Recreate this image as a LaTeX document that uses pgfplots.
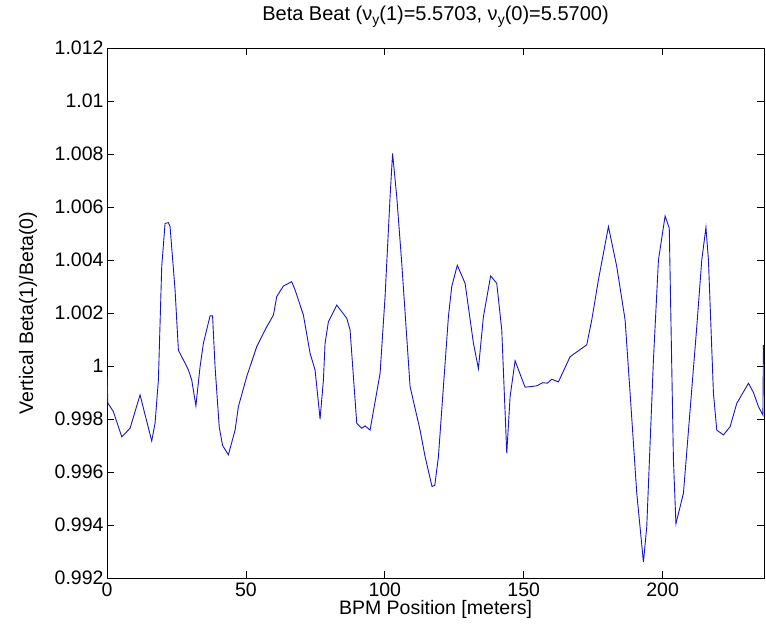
\documentclass[border=0pt]{standalone}
\usepackage{fontspec}
\setmainfont{Liberation Sans}
\usepackage{pgfplots}
\pgfplotsset{compat=1.18}
\begin{document}
\begin{tikzpicture}
\useasboundingbox (0,0) rectangle (766bp,626bp);
\begin{axis}[
  at={(107bp,48bp)}, anchor=south west,
  scale only axis, width=657bp, height=530bp,
  xmin=0, xmax=236.5, ymin=0.992, ymax=1.012,
  axis line style={line width=0.8bp},
  tick style={line width=0.8bp, black},
  tick align=inside, major tick length=7bp,
  xtick={0,50,100,150,200}, xticklabels={0,50,100,150,200},
  ytick={0.992,0.994,0.996,0.998,1,1.002,1.004,1.006,1.008,1.01,1.012},
  yticklabels={0.992,0.994,0.996,0.998,1,1.002,1.004,1.006,1.008,1.01,1.012},
  scaled y ticks=false,
  tick label style={font=\fontsize{19.5bp}{23bp}\selectfont},
  xticklabel style={yshift=-1bp},
  label style={font=\fontsize{19.5bp}{23bp}\selectfont},
  xlabel={BPM Position [meters]},
  xlabel style={at={(axis description cs:0.5,0)}, anchor=base, yshift=-36bp},
  ylabel={Vertical Beta(1)/Beta(0)},
  ylabel style={at={([xshift=-79bp]axis description cs:0,0.5)}, anchor=center},
  title={Beta Beat (ν\raisebox{-0.45ex}{\fontsize{14bp}{16bp}\selectfont y}(1)=5.5703, ν\raisebox{-0.45ex}{\fontsize{14bp}{16bp}\selectfont y}(0)=5.5700)},
  title style={font=\fontsize{20bp}{24bp}\selectfont, at={(axis description cs:0.5,1)}, anchor=base, yshift=22bp},
]
\addplot[color={rgb,255:red,20;green,20;blue,200}, line width=0.9bp] coordinates {
(0,0.99962) (0.3,0.99860) (2.3,0.99828) (5.3,0.99733) (8.3,0.99765)
(11.9,0.99891) (16.1,0.99717) (17.3,0.99784) (18.5,0.99947) (19.7,1.00375)
(20.9,1.00538) (22.1,1.00541) (22.7,1.00526) (24.5,1.00287) (25.7,1.00060)
(29.3,0.99985) (30.5,0.99947) (32.0,0.99850) (33.5,0.99997) (34.7,1.00086)
(37.1,1.00189) (38.0,1.00189) (38.9,0.99997) (40.4,0.99770) (41.6,0.99700)
(43.7,0.99665) (46.1,0.99758) (47.3,0.99847) (50.3,0.99960) (53.9,1.00073)
(57.5,1.00148) (59.9,1.00192) (61.1,1.00262) (63.5,1.00302) (66.5,1.00318)
(67.7,1.00287) (70.7,1.00192) (73.1,1.00048) (74.9,0.99985) (76.7,0.99800)
(77.9,0.99947) (78.5,1.00086) (79.7,1.00167) (82.7,1.00230) (86.3,1.00180)
(87.5,1.00136) (89.9,0.99784) (91.7,0.99765) (92.9,0.99774) (94.7,0.99758)
(98.3,0.99972) (100.1,1.00262) (101.9,1.00639) (102.8,1.00802) (104.3,1.00639)
(106.1,1.00388) (109.1,0.99922) (112.7,0.99758) (114.5,0.99658) (117.0,0.99545)
(118.0,0.99550) (119.3,0.99658) (122.9,1.00186) (124.1,1.00300) (126.1,1.00380)
(128.9,1.00312) (131.9,1.00086) (133.7,0.99990) (135.5,1.00186) (138.1,1.00340)
(140.3,1.00312) (142.1,1.00136) (143.9,0.99670) (145.1,0.99884) (146.9,1.00020)
(148.5,0.99975) (150.5,0.99920) (154.7,0.99925) (156.8,0.99937) (158.5,0.99935)
(160.1,0.99950) (162.5,0.99940) (166.7,1.00035) (172.7,1.00080) (174.5,1.00174)
(176.9,1.00325) (180.5,1.00526) (183.5,1.00375) (186.5,1.00174) (188.3,0.99897)
(190.7,0.99520) (193.1,0.99260) (194.3,0.99394) (196.7,1.00023) (198.5,1.00400)
(200.9,1.00566) (202.4,1.00520) (203.9,0.99645) (204.8,0.99405) (207.5,0.99520)
(212.3,1.00148) (214.1,1.00400) (215.6,1.00523) (216.5,1.00400) (218.3,0.99897)
(219.5,0.99758) (221.9,0.99740) (224.3,0.99771) (226.7,0.99859) (230.9,0.99935)
(232.7,0.99900) (234.5,0.99847) (236.1,0.99815) (236.3,1.00080)
};
\end{axis}
\end{tikzpicture}
\end{document}
